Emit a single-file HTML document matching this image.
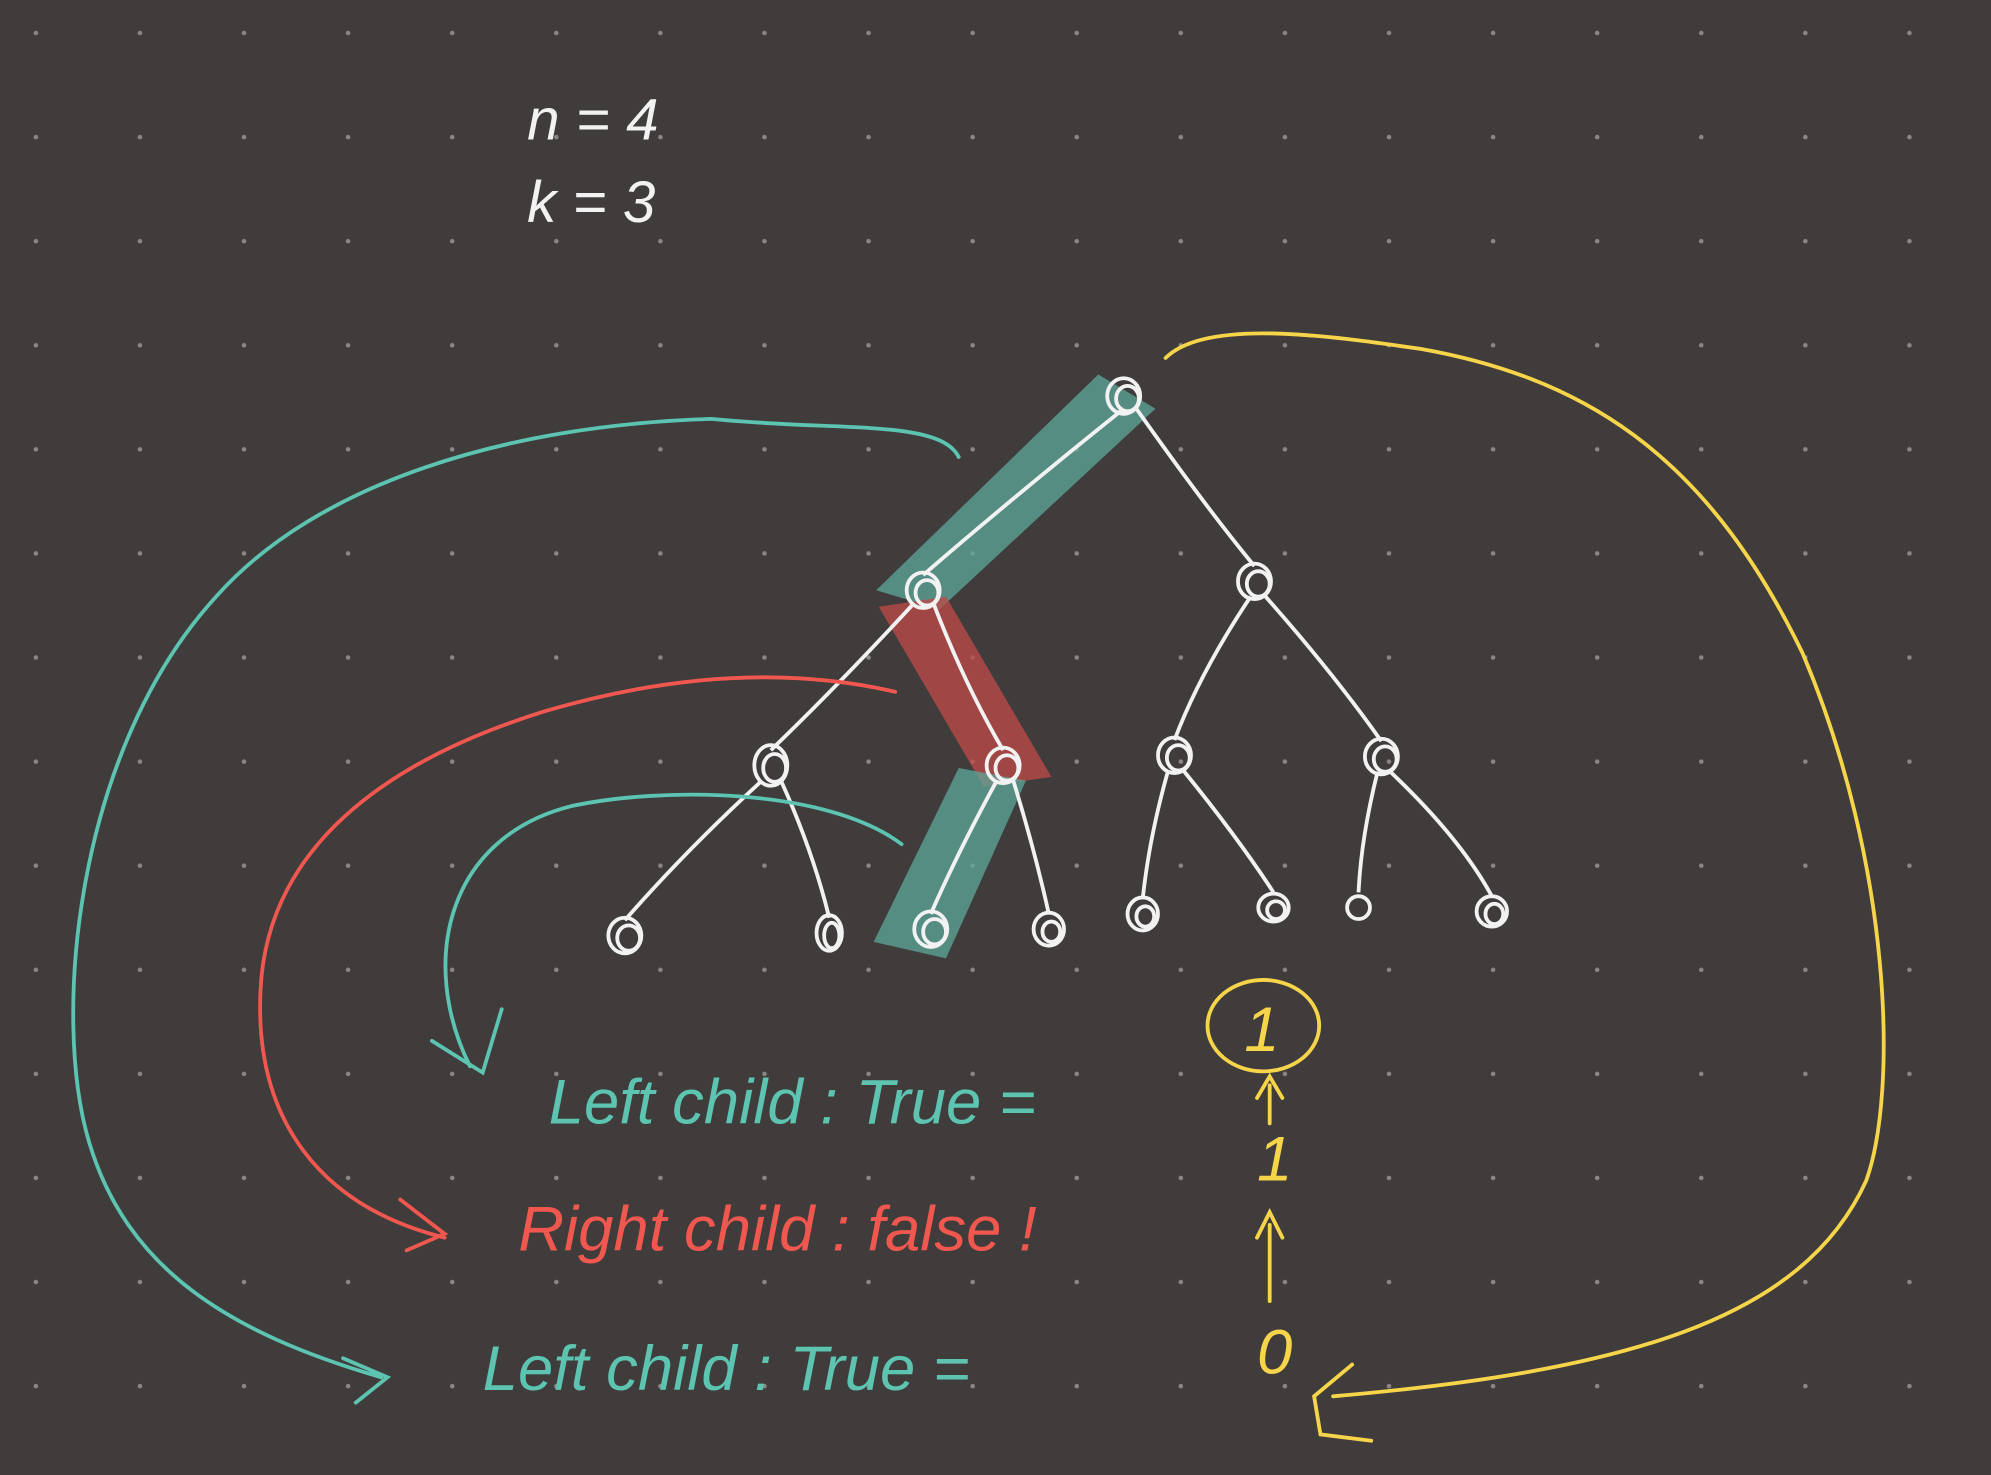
<!DOCTYPE html>
<html><head><meta charset="utf-8"><style>
html,body{margin:0;padding:0;background:#3f3c3b;}
svg{display:block}
text{font-family:"Liberation Sans",sans-serif;font-style:italic;}
</style></head><body>
<svg width="1991" height="1475" viewBox="0 0 1568 1162" xmlns="http://www.w3.org/2000/svg">
<defs>
<pattern id="dp" x="0" y="0" width="82" height="82" patternUnits="userSpaceOnUse">
<circle cx="28" cy="26" r="1.8" fill="#8a8785"/>
</pattern>
</defs>
<rect width="1568" height="1162" fill="#3f3c3b"/>
<rect width="1568" height="1162" fill="url(#dp)"/>
<g fill="#f2f2f2" font-size="46">
<text x="415" y="110">n = 4</text>
<text x="415" y="175">k = 3</text>
</g>
<g>
<path d="M865 295 L910 322 L740 480 L690 465 Z" fill="#5fa89b" opacity="0.75"/>
<path d="M692 478 L745 470 L828 612 L775 620 Z" fill="#c24a48" opacity="0.75"/>
<path d="M755 605 L808 615 L745 755 L688 742 Z" fill="#5fa89b" opacity="0.75"/>
</g>
<g stroke="#f2f2f2" stroke-width="3" fill="none">
<path d="M885 322 Q800 390 727 453"/>
<path d="M895 322 Q950 400 988 446"/>
<path d="M720 475 Q660 540 607 591"/>
<path d="M735 475 Q760 540 790 591"/>
<path d="M985 470 Q945 530 925 583"/>
<path d="M995 468 Q1050 530 1088 584"/>
<path d="M600 615 Q540 670 492 725"/>
<path d="M615 615 Q640 670 653 723"/>
<path d="M785 615 Q755 670 733 720"/>
<path d="M798 615 Q815 670 826 720"/>
<path d="M920 607 Q905 660 900 708"/>
<path d="M932 607 Q975 660 1003 703"/>
<path d="M1085 608 Q1072 660 1070 703"/>
<path d="M1095 608 Q1150 660 1175 706"/>
<g>
<ellipse cx="885" cy="312" rx="13" ry="14"/><ellipse cx="888" cy="314" rx="9" ry="10"/>
<ellipse cx="727" cy="465" rx="13" ry="14"/><ellipse cx="730" cy="467" rx="9" ry="10"/>
<ellipse cx="988" cy="458" rx="13" ry="14"/><ellipse cx="991" cy="460" rx="9" ry="10"/>
<ellipse cx="607" cy="603" rx="13" ry="16"/><ellipse cx="610" cy="605" rx="9" ry="11"/>
<ellipse cx="790" cy="603" rx="13" ry="14"/><ellipse cx="793" cy="605" rx="9" ry="10"/>
<ellipse cx="925" cy="595" rx="13" ry="14"/><ellipse cx="928" cy="597" rx="9" ry="10"/>
<ellipse cx="1088" cy="596" rx="13" ry="14"/><ellipse cx="1091" cy="598" rx="9" ry="10"/>
<ellipse cx="492" cy="737" rx="13" ry="14"/><ellipse cx="495" cy="739" rx="9" ry="10"/>
<ellipse cx="653" cy="735" rx="10" ry="14"/><ellipse cx="655" cy="737" rx="6" ry="10"/>
<ellipse cx="733" cy="732" rx="13" ry="14"/><ellipse cx="736" cy="734" rx="9" ry="10"/>
<ellipse cx="826" cy="732" rx="12" ry="13"/><ellipse cx="828" cy="734" rx="7" ry="8"/>
<ellipse cx="900" cy="720" rx="12" ry="13"/><ellipse cx="902" cy="722" rx="7" ry="8"/>
<ellipse cx="1003" cy="715" rx="12" ry="11"/><ellipse cx="1005" cy="717" rx="7" ry="7"/>
<ellipse cx="1070" cy="715" rx="9" ry="9"/>
<ellipse cx="1175" cy="718" rx="12" ry="12"/><ellipse cx="1177" cy="720" rx="7" ry="8"/>
</g>
</g>
<g fill="none" stroke-width="3" stroke-linecap="round">
<path d="M755 360 C740 330 660 340 560 330 C400 335 250 380 170 470 C60 590 40 800 70 900 C100 1000 180 1050 300 1085 M270 1070 L305 1085 L280 1105" stroke="#5cc4b0"/>
<path d="M705 545 C640 530 550 525 430 560 C300 600 210 670 205 780 C200 880 250 950 350 975 M315 945 L350 972 L320 985" stroke="#f0574f"/>
<path d="M710 665 C650 620 520 620 450 635 C350 660 330 760 370 840 M340 820 L380 845 L395 795" stroke="#5cc4b0"/>
<path d="M918 282 C950 250 1050 265 1120 275 C1260 300 1350 370 1420 515 C1490 680 1495 860 1470 930 C1420 1040 1280 1080 1050 1100 M1065 1075 L1035 1100 L1040 1130 L1080 1135" stroke="#f7d54a"/>
<ellipse cx="995" cy="808" rx="44" ry="36" stroke="#f7d54a"/>
<path d="M1000 1025 L1000 965 M990 975 L1000 955 L1010 975 M1000 885 L1000 855 M990 865 L1000 848 L1010 865" stroke="#f7d54a"/>
</g>
<g font-size="50">
<text x="432" y="885" fill="#5cc4b0">Left child : True =</text>
<text x="408" y="985" fill="#f0574f">Right child : false !</text>
<text x="380" y="1095" fill="#5cc4b0">Left child : True =</text>
<text x="980" y="828" fill="#f7d54a">1</text>
<text x="990" y="930" fill="#f7d54a">1</text>
<text x="990" y="1082" fill="#f7d54a">0</text>
</g>
</svg>
</body></html>
